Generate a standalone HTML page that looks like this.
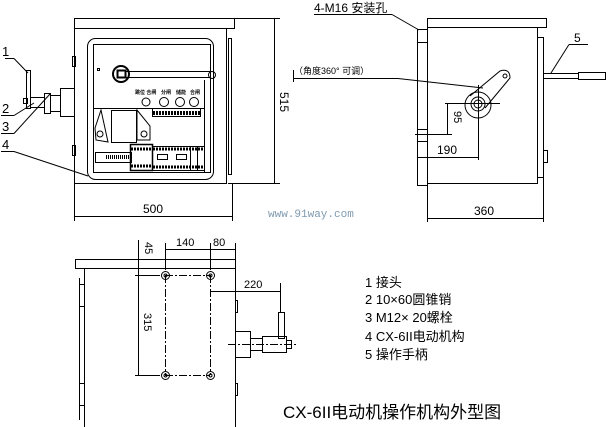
<!DOCTYPE html>
<html><head><meta charset="utf-8"><style>
html,body{margin:0;padding:0;background:#fff;}
svg{display:block;}
text{font-family:"Liberation Sans","Noto Sans CJK SC",sans-serif;fill:#000;}
</style></head><body>
<svg width="608" height="427" viewBox="0 0 608 427" xmlns="http://www.w3.org/2000/svg">
<g fill="none" stroke="#000" stroke-width="1">
<!-- FRONT VIEW -->
<rect x="74.5" y="18.5" width="160" height="10"/>
<rect x="74.5" y="28.5" width="152" height="155"/>
<line x1="226.5" y1="28.5" x2="226.5" y2="183.5"/>
<rect x="228.5" y="38.5" width="3" height="136"/>
<rect x="87.5" y="38.5" width="126" height="141" rx="8"/>
<rect x="93.5" y="44.5" width="117" height="128"/>
<line x1="93" y1="108.5" x2="204" y2="108.5"/>
<line x1="204.5" y1="80" x2="204.5" y2="172"/>
<circle cx="121" cy="74" r="8" stroke-width="2"/>
<rect x="117.5" y="70.5" width="8" height="7" stroke-width="2"/>
<line x1="126" y1="71.5" x2="210" y2="71.5"/>
<line x1="126" y1="77.5" x2="210" y2="77.5"/>
<circle cx="212" cy="75" r="3.5"/>
<rect x="97.5" y="68.5" width="2" height="2"/>
<circle cx="146" cy="102" r="4"/>
<circle cx="164" cy="102" r="4.5"/>
<circle cx="180" cy="102" r="4.5"/>
<circle cx="194" cy="102" r="4.5"/>
<rect x="152.5" y="108.5" width="48" height="8"/>
<line x1="153" y1="113" x2="200" y2="113" stroke-width="4" stroke-dasharray="2,1"/>
<path d="M101 110 L95 128 L96 140 L108 142 Z"/>
<circle cx="100" cy="134" r="3"/>
<rect x="111.5" y="110.5" width="25" height="32"/>
<path d="M137 110 L150 126 L150 140 L137 140 Z"/>
<circle cx="144" cy="134" r="3"/>
<rect x="95.5" y="152.5" width="36" height="10"/>
<line x1="106" y1="157" x2="130" y2="157" stroke-width="4" stroke-dasharray="1,1"/>
<rect x="130.5" y="144.5" width="22" height="26" stroke-width="1.5"/>
<line x1="131" y1="149" x2="152" y2="149" stroke-width="3" stroke-dasharray="2,1"/>
<line x1="131" y1="166" x2="152" y2="166" stroke-width="3" stroke-dasharray="2,1"/>
<rect x="152.5" y="146.5" width="52" height="24"/>
<line x1="153" y1="149" x2="204" y2="149" stroke-width="3" stroke-dasharray="2,1"/>
<line x1="153" y1="167" x2="204" y2="167" stroke-width="3" stroke-dasharray="2,1"/>
<rect x="157.5" y="154.5" width="10" height="5"/>
<rect x="176.5" y="154.5" width="10" height="5"/>
<line x1="190.5" y1="146" x2="190.5" y2="170"/>
<line x1="197.5" y1="146" x2="197.5" y2="170"/>
<rect x="72.5" y="56.5" width="3" height="10"/>
<rect x="72.5" y="145.5" width="3" height="10"/>
<!-- items 1-3 -->
<rect x="26.5" y="70.5" width="4" height="38"/>
<rect x="30.5" y="97.5" width="14" height="10"/>
<rect x="23.5" y="98.5" width="4" height="5"/>
<rect x="44.5" y="93.5" width="6" height="20"/>
<rect x="50.5" y="95.5" width="10" height="16"/>
<rect x="60.5" y="88.5" width="14" height="28"/>
<line x1="5" y1="58.5" x2="14" y2="58.5"/>
<line x1="14" y1="58.5" x2="28" y2="73"/>
<line x1="1" y1="115.5" x2="14" y2="115.5"/>
<line x1="14" y1="115.5" x2="34" y2="103"/>
<line x1="1" y1="133.5" x2="14" y2="133.5"/>
<line x1="14" y1="133.5" x2="50" y2="94"/>
<line x1="1" y1="151.5" x2="14" y2="151.5"/>
<line x1="14" y1="151.5" x2="88" y2="176"/>
<!-- dims -->
<line x1="228" y1="18.5" x2="280" y2="18.5"/>
<line x1="228" y1="183.5" x2="280" y2="183.5"/>
<line x1="274.5" y1="18" x2="274.5" y2="184"/>
<line x1="74.5" y1="184" x2="74.5" y2="221"/>
<line x1="232.5" y1="184" x2="232.5" y2="221"/>
<line x1="74" y1="216.5" x2="232" y2="216.5"/>
<line x1="293.5" y1="70" x2="293.5" y2="82"/>
<!-- SIDE VIEW -->
<rect x="427.5" y="18.5" width="119" height="9"/>
<rect x="427.5" y="27.5" width="110" height="156"/>
<rect x="417.5" y="29.5" width="10" height="156"/>
<line x1="417" y1="42.5" x2="427" y2="42.5"/>
<line x1="417" y1="129.5" x2="427" y2="129.5"/>
<line x1="417" y1="141.5" x2="427" y2="141.5"/>
<rect x="537.5" y="37.5" width="6" height="140"/>
<rect x="543.5" y="150.5" width="4" height="12"/>
<line x1="543" y1="73.5" x2="578" y2="73.5"/>
<line x1="543" y1="78.5" x2="578" y2="78.5"/>
<rect x="578.5" y="72.5" width="27" height="7"/>
<line x1="569" y1="44.5" x2="588" y2="44.5"/>
<line x1="569" y1="44.5" x2="551" y2="73"/>
<line x1="314" y1="14.5" x2="392" y2="14.5"/>
<line x1="392" y1="14.5" x2="419" y2="30"/>
<line x1="293" y1="78.5" x2="398" y2="78.5"/>
<line x1="398" y1="78.5" x2="483" y2="88"/>
<circle cx="478" cy="105" r="13"/>
<circle cx="478" cy="104" r="7"/>
<circle cx="478" cy="104" r="4"/>
<path d="M470 96 L500 71 Q510 68 510 78 L485 108"/>
<circle cx="505" cy="76" r="2"/>
<line x1="478.5" y1="85" x2="478.5" y2="160"/>
<line x1="445" y1="103.5" x2="500" y2="103.5"/>
<line x1="447.5" y1="103" x2="447.5" y2="135"/>
<line x1="415" y1="134.5" x2="452" y2="134.5"/>
<line x1="417" y1="157.5" x2="478" y2="157.5"/>
<line x1="427.5" y1="184" x2="427.5" y2="222"/>
<line x1="543.5" y1="178" x2="543.5" y2="222"/>
<line x1="427" y1="218.5" x2="543" y2="218.5"/>
<!-- BOTTOM VIEW -->
<rect x="75.5" y="259.5" width="160" height="9"/>
<line x1="84.5" y1="268" x2="84.5" y2="427"/>
<line x1="235.5" y1="268" x2="235.5" y2="427"/>
<rect x="79.5" y="284.5" width="5" height="22"/>
<rect x="79.5" y="383.5" width="5" height="22"/>
<line x1="79.5" y1="278" x2="79.5" y2="420"/>
<rect x="235.5" y="300.5" width="2" height="12"/>
<rect x="235.5" y="383.5" width="2" height="12"/>
<rect x="235.5" y="331.5" width="15" height="26"/>
<rect x="250.5" y="338.5" width="12" height="12"/>
<rect x="262.5" y="336.5" width="24" height="16"/>
<rect x="286.5" y="340.5" width="5" height="8"/>
<rect x="278.5" y="312.5" width="6" height="26"/>
<line x1="228" y1="344.5" x2="296" y2="344.5" stroke-dasharray="8,2,2,2"/>
<line x1="165" y1="275.5" x2="210" y2="275.5" stroke-dasharray="8,2,2,2"/>
<line x1="165" y1="375.5" x2="210" y2="375.5" stroke-dasharray="8,2,2,2"/>
<line x1="165.5" y1="275" x2="165.5" y2="375" stroke-dasharray="8,2,2,2"/>
<line x1="210.5" y1="275" x2="210.5" y2="375" stroke-dasharray="8,2,2,2"/>
<line x1="135" y1="275.5" x2="160" y2="275.5"/>
<line x1="135" y1="375.5" x2="160" y2="375.5"/>
<circle cx="165.5" cy="275.5" r="4"/><circle cx="165.5" cy="275.5" r="1.5"/>
<circle cx="210.5" cy="275.5" r="4"/><circle cx="210.5" cy="275.5" r="1.5"/>
<circle cx="165.5" cy="375.5" r="4"/><circle cx="165.5" cy="375.5" r="1.5"/>
<circle cx="210.5" cy="375.5" r="4"/><circle cx="210.5" cy="375.5" r="1.5"/>
<line x1="138.5" y1="240" x2="138.5" y2="376"/>
<line x1="165.5" y1="243" x2="165.5" y2="270"/>
<line x1="210.5" y1="243" x2="210.5" y2="270"/>
<line x1="235.5" y1="243" x2="235.5" y2="260"/>
<line x1="165" y1="249.5" x2="235" y2="249.5"/>
<line x1="210" y1="291.5" x2="280" y2="291.5"/>
<line x1="280.5" y1="283" x2="280.5" y2="312"/>
</g>
<g font-size="5" font-weight="bold">
<text x="135" y="94">跳位 合闸</text><text x="161" y="94">分闸</text><text x="176" y="94">储能</text><text x="190" y="94">合闸</text>
</g>
<text x="2" y="56" font-size="13">1</text>
<text x="2" y="113" font-size="13">2</text>
<text x="2" y="131" font-size="13">3</text>
<text x="2" y="149" font-size="13">4</text>
<text x="280" y="92" font-size="12" transform="rotate(90 280 92)">515</text>
<text x="143" y="213" font-size="12">500</text>
<text x="268" y="217" font-size="11" style="fill:#7f9bb0;font-family:'Liberation Mono',monospace">www.91way.com</text>
<text x="314" y="12" font-size="12">4-M16 安装孔</text>
<text x="574" y="42" font-size="12">5</text>
<text x="294" y="74" font-size="9">（角度360° 可调）</text>
<text x="454" y="111" font-size="11" transform="rotate(90 454 111)">95</text>
<text x="437" y="154" font-size="12">190</text>
<text x="474" y="215" font-size="12">360</text>
<text x="176" y="246" font-size="11">140</text>
<text x="213" y="246" font-size="11">80</text>
<text x="145" y="242" font-size="11" transform="rotate(90 145 242)">45</text>
<text x="144" y="313" font-size="11" transform="rotate(90 144 313)">315</text>
<text x="244" y="288" font-size="11">220</text>
<g font-size="13">
<text x="365" y="287">1  接头</text>
<text x="365" y="304">2  10×60圆锥销</text>
<text x="365" y="322">3  M12× 20螺栓</text>
<text x="365" y="341">4  CX-6II电动机构</text>
<text x="365" y="359">5  操作手柄</text>
</g>
<text x="283" y="418" font-size="17">CX-6II电动机操作机构外型图</text>
</svg>
</body></html>
